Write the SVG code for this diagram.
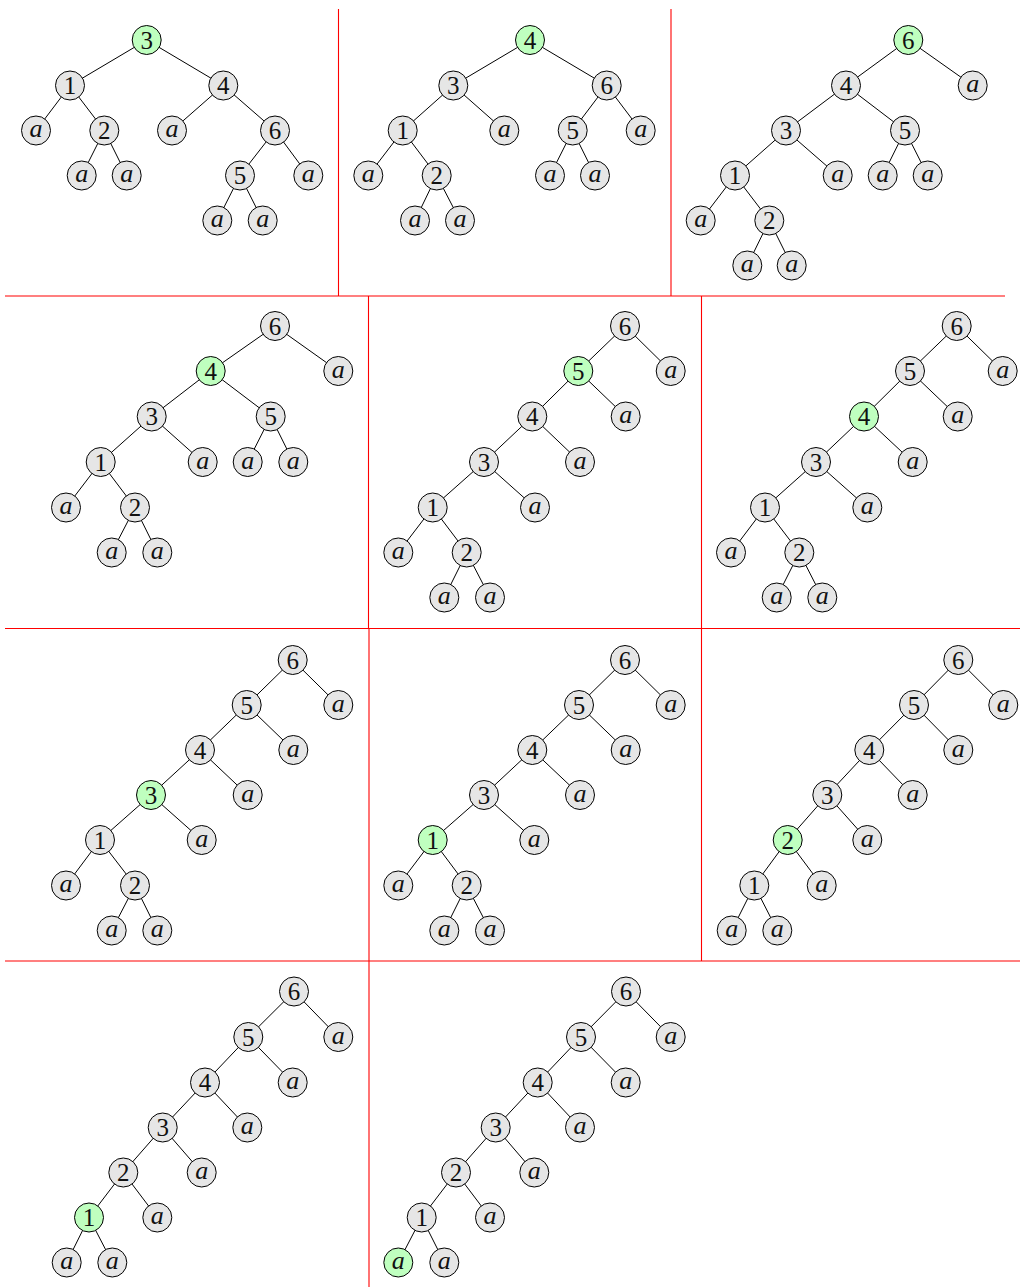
<svg xmlns="http://www.w3.org/2000/svg" width="1020" height="1287" viewBox="0 0 1020 1287">
<style>
.node circle{fill:#e6e6e6;stroke:#000;stroke-width:1}
.node.hl circle{fill:#bfffbf}
.node text{font-family:"Liberation Serif",serif;text-anchor:middle;fill:#111}
.d{font-size:25px}
.i{font-size:26px;font-style:italic}
.edges line{stroke:#000;stroke-width:1}
.div line{stroke:#ff0000;stroke-width:1.1}
</style>
<rect width="1020" height="1287" fill="#fff"/>
<g id="dividers" class="div">
<line x1="338.5" y1="9" x2="338.5" y2="296"/>
<line x1="671" y1="9" x2="671" y2="296"/>
<line x1="5" y1="296" x2="1005" y2="296"/>
<line x1="368.5" y1="296" x2="368.5" y2="628.5"/>
<line x1="701.5" y1="296" x2="701.5" y2="628.5"/>
<line x1="5" y1="628.5" x2="1020" y2="628.5"/>
<line x1="369" y1="628.5" x2="369" y2="961"/>
<line x1="701.5" y1="628.5" x2="701.5" y2="961"/>
<line x1="5" y1="961" x2="1020" y2="961"/>
<line x1="369" y1="961" x2="369" y2="1287"/>
</g>
<g id="connectors" class="edges">
<line x1="146.7" y1="40" x2="70" y2="85.5"/><line x1="146.7" y1="40" x2="223.3" y2="85.5"/><line x1="70" y1="85.5" x2="36" y2="130.5"/><line x1="70" y1="85.5" x2="104.3" y2="130.5"/><line x1="104.3" y1="130.5" x2="81.7" y2="175.5"/><line x1="104.3" y1="130.5" x2="126.7" y2="175.5"/><line x1="223.3" y1="85.5" x2="172" y2="130.5"/><line x1="223.3" y1="85.5" x2="275" y2="130.5"/><line x1="275" y1="130.5" x2="240" y2="175.5"/><line x1="275" y1="130.5" x2="308.3" y2="175.5"/><line x1="240" y1="175.5" x2="217.3" y2="220.5"/><line x1="240" y1="175.5" x2="262.7" y2="220.5"/>
<line x1="530" y1="40" x2="453.3" y2="85.5"/><line x1="530" y1="40" x2="606.7" y2="85.5"/><line x1="453.3" y1="85.5" x2="402.7" y2="130.5"/><line x1="453.3" y1="85.5" x2="504.3" y2="130.5"/><line x1="606.7" y1="85.5" x2="572.7" y2="130.5"/><line x1="606.7" y1="85.5" x2="640.7" y2="130.5"/><line x1="402.7" y1="130.5" x2="368.3" y2="175.5"/><line x1="402.7" y1="130.5" x2="436.7" y2="175.5"/><line x1="572.7" y1="130.5" x2="550" y2="175.5"/><line x1="572.7" y1="130.5" x2="595" y2="175.5"/><line x1="436.7" y1="175.5" x2="415" y2="220.5"/><line x1="436.7" y1="175.5" x2="460" y2="220.5"/>
<line x1="908.3" y1="40" x2="846" y2="85.5"/><line x1="908.3" y1="40" x2="972.7" y2="85.5"/><line x1="846" y1="85.5" x2="786" y2="130.5"/><line x1="846" y1="85.5" x2="905" y2="130.5"/><line x1="786" y1="130.5" x2="735" y2="175.5"/><line x1="786" y1="130.5" x2="837.7" y2="175.5"/><line x1="905" y1="130.5" x2="882.7" y2="175.5"/><line x1="905" y1="130.5" x2="927.7" y2="175.5"/><line x1="735" y1="175.5" x2="700.7" y2="220.5"/><line x1="735" y1="175.5" x2="769.3" y2="220.5"/><line x1="769.3" y1="220.5" x2="747.3" y2="265.5"/><line x1="769.3" y1="220.5" x2="791.7" y2="265.5"/>
<line x1="275" y1="326" x2="210.7" y2="371"/><line x1="275" y1="326" x2="338.3" y2="371"/><line x1="210.7" y1="371" x2="151.7" y2="416.5"/><line x1="210.7" y1="371" x2="270.7" y2="416.5"/><line x1="151.7" y1="416.5" x2="100.7" y2="462"/><line x1="151.7" y1="416.5" x2="202.7" y2="462"/><line x1="270.7" y1="416.5" x2="247.7" y2="462"/><line x1="270.7" y1="416.5" x2="293.3" y2="462"/><line x1="100.7" y1="462" x2="66" y2="507.5"/><line x1="100.7" y1="462" x2="135" y2="507.5"/><line x1="135" y1="507.5" x2="111.7" y2="552.5"/><line x1="135" y1="507.5" x2="157.3" y2="552.5"/>
<line x1="625" y1="326" x2="578.3" y2="371"/><line x1="625" y1="326" x2="670.7" y2="371"/><line x1="578.3" y1="371" x2="532.3" y2="416.5"/><line x1="578.3" y1="371" x2="625.7" y2="416.5"/><line x1="532.3" y1="416.5" x2="484" y2="462"/><line x1="532.3" y1="416.5" x2="580" y2="462"/><line x1="484" y1="462" x2="432.7" y2="507.5"/><line x1="484" y1="462" x2="535" y2="507.5"/><line x1="432.7" y1="507.5" x2="398.3" y2="552.5"/><line x1="432.7" y1="507.5" x2="466.7" y2="552.5"/><line x1="466.7" y1="552.5" x2="444.3" y2="597.5"/><line x1="466.7" y1="552.5" x2="490" y2="597.5"/>
<line x1="956.7" y1="326" x2="910" y2="371"/><line x1="956.7" y1="326" x2="1002.7" y2="371"/><line x1="910" y1="371" x2="864" y2="416.5"/><line x1="910" y1="371" x2="957.7" y2="416.5"/><line x1="864" y1="416.5" x2="816" y2="462"/><line x1="864" y1="416.5" x2="912.7" y2="462"/><line x1="816" y1="462" x2="765" y2="507.5"/><line x1="816" y1="462" x2="867.3" y2="507.5"/><line x1="765" y1="507.5" x2="731" y2="552.5"/><line x1="765" y1="507.5" x2="799.3" y2="552.5"/><line x1="799.3" y1="552.5" x2="776.7" y2="597.5"/><line x1="799.3" y1="552.5" x2="822.3" y2="597.5"/>
<line x1="292.7" y1="660" x2="246.7" y2="705"/><line x1="292.7" y1="660" x2="338.3" y2="705"/><line x1="246.7" y1="705" x2="200" y2="750"/><line x1="246.7" y1="705" x2="293.3" y2="750"/><line x1="200" y1="750" x2="151" y2="795"/><line x1="200" y1="750" x2="247.7" y2="795"/><line x1="151" y1="795" x2="100" y2="840"/><line x1="151" y1="795" x2="201.7" y2="840"/><line x1="100" y1="840" x2="66" y2="885.5"/><line x1="100" y1="840" x2="135" y2="885.5"/><line x1="135" y1="885.5" x2="111.7" y2="930.5"/><line x1="135" y1="885.5" x2="157.3" y2="930.5"/>
<line x1="625" y1="660" x2="579" y2="705"/><line x1="625" y1="660" x2="670.7" y2="705"/><line x1="579" y1="705" x2="532.3" y2="750"/><line x1="579" y1="705" x2="625.7" y2="750"/><line x1="532.3" y1="750" x2="484" y2="795"/><line x1="532.3" y1="750" x2="580" y2="795"/><line x1="484" y1="795" x2="432.7" y2="840"/><line x1="484" y1="795" x2="534.3" y2="840"/><line x1="432.7" y1="840" x2="398.3" y2="885.5"/><line x1="432.7" y1="840" x2="466.7" y2="885.5"/><line x1="466.7" y1="885.5" x2="444.3" y2="930.5"/><line x1="466.7" y1="885.5" x2="490" y2="930.5"/>
<line x1="958.3" y1="660" x2="914" y2="705"/><line x1="958.3" y1="660" x2="1003.3" y2="705"/><line x1="914" y1="705" x2="869.3" y2="750"/><line x1="914" y1="705" x2="958.3" y2="750"/><line x1="869.3" y1="750" x2="827.3" y2="795"/><line x1="869.3" y1="750" x2="912.7" y2="795"/><line x1="827.3" y1="795" x2="787.7" y2="840"/><line x1="827.3" y1="795" x2="867.3" y2="840"/><line x1="787.7" y1="840" x2="754.3" y2="885.5"/><line x1="787.7" y1="840" x2="821.7" y2="885.5"/><line x1="754.3" y1="885.5" x2="731.7" y2="930.5"/><line x1="754.3" y1="885.5" x2="777.3" y2="930.5"/>
<line x1="294" y1="991.5" x2="248.3" y2="1037"/><line x1="294" y1="991.5" x2="338.3" y2="1037"/><line x1="248.3" y1="1037" x2="205" y2="1082.5"/><line x1="248.3" y1="1037" x2="292.7" y2="1082.5"/><line x1="205" y1="1082.5" x2="162.7" y2="1127.5"/><line x1="205" y1="1082.5" x2="247.3" y2="1127.5"/><line x1="162.7" y1="1127.5" x2="123.3" y2="1172.5"/><line x1="162.7" y1="1127.5" x2="201.7" y2="1172.5"/><line x1="123.3" y1="1172.5" x2="89" y2="1217.5"/><line x1="123.3" y1="1172.5" x2="157.3" y2="1217.5"/><line x1="89" y1="1217.5" x2="66.7" y2="1262.5"/><line x1="89" y1="1217.5" x2="112.3" y2="1262.5"/>
<line x1="626" y1="991.5" x2="581" y2="1037"/><line x1="626" y1="991.5" x2="670.7" y2="1037"/><line x1="581" y1="1037" x2="537.7" y2="1082.5"/><line x1="581" y1="1037" x2="625.7" y2="1082.5"/><line x1="537.7" y1="1082.5" x2="495.7" y2="1127.5"/><line x1="537.7" y1="1082.5" x2="580" y2="1127.5"/><line x1="495.7" y1="1127.5" x2="456" y2="1172.5"/><line x1="495.7" y1="1127.5" x2="534.3" y2="1172.5"/><line x1="456" y1="1172.5" x2="421.7" y2="1217.5"/><line x1="456" y1="1172.5" x2="490" y2="1217.5"/><line x1="421.7" y1="1217.5" x2="398.3" y2="1262.5"/><line x1="421.7" y1="1217.5" x2="444.3" y2="1262.5"/>
</g>
<g id="panel1">
<g id="p1-3" class="node hl"><circle cx="146.7" cy="40" r="14.5"/><text class="d" x="146.7" y="48.5">3</text></g>
<g id="p1-1" class="node"><circle cx="70" cy="85.5" r="14.5"/><text class="d" x="70" y="94">1</text></g>
<g id="p1-4" class="node"><circle cx="223.3" cy="85.5" r="14.5"/><text class="d" x="223.3" y="94">4</text></g>
<g id="p1-a1" class="node"><circle cx="36" cy="130.5" r="14.5"/><text class="i" x="36" y="137">a</text></g>
<g id="p1-2" class="node"><circle cx="104.3" cy="130.5" r="14.5"/><text class="d" x="104.3" y="139">2</text></g>
<g id="p1-a2" class="node"><circle cx="172" cy="130.5" r="14.5"/><text class="i" x="172" y="137">a</text></g>
<g id="p1-6" class="node"><circle cx="275" cy="130.5" r="14.5"/><text class="d" x="275" y="139">6</text></g>
<g id="p1-a3" class="node"><circle cx="81.7" cy="175.5" r="14.5"/><text class="i" x="81.7" y="182">a</text></g>
<g id="p1-a4" class="node"><circle cx="126.7" cy="175.5" r="14.5"/><text class="i" x="126.7" y="182">a</text></g>
<g id="p1-5" class="node"><circle cx="240" cy="175.5" r="14.5"/><text class="d" x="240" y="184">5</text></g>
<g id="p1-a5" class="node"><circle cx="308.3" cy="175.5" r="14.5"/><text class="i" x="308.3" y="182">a</text></g>
<g id="p1-a6" class="node"><circle cx="217.3" cy="220.5" r="14.5"/><text class="i" x="217.3" y="227">a</text></g>
<g id="p1-a7" class="node"><circle cx="262.7" cy="220.5" r="14.5"/><text class="i" x="262.7" y="227">a</text></g>
</g>
<g id="panel2">
<g id="p2-4" class="node hl"><circle cx="530" cy="40" r="14.5"/><text class="d" x="530" y="48.5">4</text></g>
<g id="p2-3" class="node"><circle cx="453.3" cy="85.5" r="14.5"/><text class="d" x="453.3" y="94">3</text></g>
<g id="p2-6" class="node"><circle cx="606.7" cy="85.5" r="14.5"/><text class="d" x="606.7" y="94">6</text></g>
<g id="p2-1" class="node"><circle cx="402.7" cy="130.5" r="14.5"/><text class="d" x="402.7" y="139">1</text></g>
<g id="p2-a1" class="node"><circle cx="504.3" cy="130.5" r="14.5"/><text class="i" x="504.3" y="137">a</text></g>
<g id="p2-5" class="node"><circle cx="572.7" cy="130.5" r="14.5"/><text class="d" x="572.7" y="139">5</text></g>
<g id="p2-a2" class="node"><circle cx="640.7" cy="130.5" r="14.5"/><text class="i" x="640.7" y="137">a</text></g>
<g id="p2-a3" class="node"><circle cx="368.3" cy="175.5" r="14.5"/><text class="i" x="368.3" y="182">a</text></g>
<g id="p2-2" class="node"><circle cx="436.7" cy="175.5" r="14.5"/><text class="d" x="436.7" y="184">2</text></g>
<g id="p2-a4" class="node"><circle cx="550" cy="175.5" r="14.5"/><text class="i" x="550" y="182">a</text></g>
<g id="p2-a5" class="node"><circle cx="595" cy="175.5" r="14.5"/><text class="i" x="595" y="182">a</text></g>
<g id="p2-a6" class="node"><circle cx="415" cy="220.5" r="14.5"/><text class="i" x="415" y="227">a</text></g>
<g id="p2-a7" class="node"><circle cx="460" cy="220.5" r="14.5"/><text class="i" x="460" y="227">a</text></g>
</g>
<g id="panel3">
<g id="p3-6" class="node hl"><circle cx="908.3" cy="40" r="14.5"/><text class="d" x="908.3" y="48.5">6</text></g>
<g id="p3-4" class="node"><circle cx="846" cy="85.5" r="14.5"/><text class="d" x="846" y="94">4</text></g>
<g id="p3-a1" class="node"><circle cx="972.7" cy="85.5" r="14.5"/><text class="i" x="972.7" y="92">a</text></g>
<g id="p3-3" class="node"><circle cx="786" cy="130.5" r="14.5"/><text class="d" x="786" y="139">3</text></g>
<g id="p3-5" class="node"><circle cx="905" cy="130.5" r="14.5"/><text class="d" x="905" y="139">5</text></g>
<g id="p3-1" class="node"><circle cx="735" cy="175.5" r="14.5"/><text class="d" x="735" y="184">1</text></g>
<g id="p3-a2" class="node"><circle cx="837.7" cy="175.5" r="14.5"/><text class="i" x="837.7" y="182">a</text></g>
<g id="p3-a3" class="node"><circle cx="882.7" cy="175.5" r="14.5"/><text class="i" x="882.7" y="182">a</text></g>
<g id="p3-a4" class="node"><circle cx="927.7" cy="175.5" r="14.5"/><text class="i" x="927.7" y="182">a</text></g>
<g id="p3-a5" class="node"><circle cx="700.7" cy="220.5" r="14.5"/><text class="i" x="700.7" y="227">a</text></g>
<g id="p3-2" class="node"><circle cx="769.3" cy="220.5" r="14.5"/><text class="d" x="769.3" y="229">2</text></g>
<g id="p3-a6" class="node"><circle cx="747.3" cy="265.5" r="14.5"/><text class="i" x="747.3" y="272">a</text></g>
<g id="p3-a7" class="node"><circle cx="791.7" cy="265.5" r="14.5"/><text class="i" x="791.7" y="272">a</text></g>
</g>
<g id="panel4">
<g id="p4-6" class="node"><circle cx="275" cy="326" r="14.5"/><text class="d" x="275" y="334.5">6</text></g>
<g id="p4-4" class="node hl"><circle cx="210.7" cy="371" r="14.5"/><text class="d" x="210.7" y="379.5">4</text></g>
<g id="p4-a1" class="node"><circle cx="338.3" cy="371" r="14.5"/><text class="i" x="338.3" y="377.5">a</text></g>
<g id="p4-3" class="node"><circle cx="151.7" cy="416.5" r="14.5"/><text class="d" x="151.7" y="425">3</text></g>
<g id="p4-5" class="node"><circle cx="270.7" cy="416.5" r="14.5"/><text class="d" x="270.7" y="425">5</text></g>
<g id="p4-1" class="node"><circle cx="100.7" cy="462" r="14.5"/><text class="d" x="100.7" y="470.5">1</text></g>
<g id="p4-a2" class="node"><circle cx="202.7" cy="462" r="14.5"/><text class="i" x="202.7" y="468.5">a</text></g>
<g id="p4-a3" class="node"><circle cx="247.7" cy="462" r="14.5"/><text class="i" x="247.7" y="468.5">a</text></g>
<g id="p4-a4" class="node"><circle cx="293.3" cy="462" r="14.5"/><text class="i" x="293.3" y="468.5">a</text></g>
<g id="p4-a5" class="node"><circle cx="66" cy="507.5" r="14.5"/><text class="i" x="66" y="514">a</text></g>
<g id="p4-2" class="node"><circle cx="135" cy="507.5" r="14.5"/><text class="d" x="135" y="516">2</text></g>
<g id="p4-a6" class="node"><circle cx="111.7" cy="552.5" r="14.5"/><text class="i" x="111.7" y="559">a</text></g>
<g id="p4-a7" class="node"><circle cx="157.3" cy="552.5" r="14.5"/><text class="i" x="157.3" y="559">a</text></g>
</g>
<g id="panel5">
<g id="p5-6" class="node"><circle cx="625" cy="326" r="14.5"/><text class="d" x="625" y="334.5">6</text></g>
<g id="p5-5" class="node hl"><circle cx="578.3" cy="371" r="14.5"/><text class="d" x="578.3" y="379.5">5</text></g>
<g id="p5-a1" class="node"><circle cx="670.7" cy="371" r="14.5"/><text class="i" x="670.7" y="377.5">a</text></g>
<g id="p5-4" class="node"><circle cx="532.3" cy="416.5" r="14.5"/><text class="d" x="532.3" y="425">4</text></g>
<g id="p5-a2" class="node"><circle cx="625.7" cy="416.5" r="14.5"/><text class="i" x="625.7" y="423">a</text></g>
<g id="p5-3" class="node"><circle cx="484" cy="462" r="14.5"/><text class="d" x="484" y="470.5">3</text></g>
<g id="p5-a3" class="node"><circle cx="580" cy="462" r="14.5"/><text class="i" x="580" y="468.5">a</text></g>
<g id="p5-1" class="node"><circle cx="432.7" cy="507.5" r="14.5"/><text class="d" x="432.7" y="516">1</text></g>
<g id="p5-a4" class="node"><circle cx="535" cy="507.5" r="14.5"/><text class="i" x="535" y="514">a</text></g>
<g id="p5-a5" class="node"><circle cx="398.3" cy="552.5" r="14.5"/><text class="i" x="398.3" y="559">a</text></g>
<g id="p5-2" class="node"><circle cx="466.7" cy="552.5" r="14.5"/><text class="d" x="466.7" y="561">2</text></g>
<g id="p5-a6" class="node"><circle cx="444.3" cy="597.5" r="14.5"/><text class="i" x="444.3" y="604">a</text></g>
<g id="p5-a7" class="node"><circle cx="490" cy="597.5" r="14.5"/><text class="i" x="490" y="604">a</text></g>
</g>
<g id="panel6">
<g id="p6-6" class="node"><circle cx="956.7" cy="326" r="14.5"/><text class="d" x="956.7" y="334.5">6</text></g>
<g id="p6-5" class="node"><circle cx="910" cy="371" r="14.5"/><text class="d" x="910" y="379.5">5</text></g>
<g id="p6-a1" class="node"><circle cx="1002.7" cy="371" r="14.5"/><text class="i" x="1002.7" y="377.5">a</text></g>
<g id="p6-4" class="node hl"><circle cx="864" cy="416.5" r="14.5"/><text class="d" x="864" y="425">4</text></g>
<g id="p6-a2" class="node"><circle cx="957.7" cy="416.5" r="14.5"/><text class="i" x="957.7" y="423">a</text></g>
<g id="p6-3" class="node"><circle cx="816" cy="462" r="14.5"/><text class="d" x="816" y="470.5">3</text></g>
<g id="p6-a3" class="node"><circle cx="912.7" cy="462" r="14.5"/><text class="i" x="912.7" y="468.5">a</text></g>
<g id="p6-1" class="node"><circle cx="765" cy="507.5" r="14.5"/><text class="d" x="765" y="516">1</text></g>
<g id="p6-a4" class="node"><circle cx="867.3" cy="507.5" r="14.5"/><text class="i" x="867.3" y="514">a</text></g>
<g id="p6-a5" class="node"><circle cx="731" cy="552.5" r="14.5"/><text class="i" x="731" y="559">a</text></g>
<g id="p6-2" class="node"><circle cx="799.3" cy="552.5" r="14.5"/><text class="d" x="799.3" y="561">2</text></g>
<g id="p6-a6" class="node"><circle cx="776.7" cy="597.5" r="14.5"/><text class="i" x="776.7" y="604">a</text></g>
<g id="p6-a7" class="node"><circle cx="822.3" cy="597.5" r="14.5"/><text class="i" x="822.3" y="604">a</text></g>
</g>
<g id="panel7">
<g id="p7-6" class="node"><circle cx="292.7" cy="660" r="14.5"/><text class="d" x="292.7" y="668.5">6</text></g>
<g id="p7-5" class="node"><circle cx="246.7" cy="705" r="14.5"/><text class="d" x="246.7" y="713.5">5</text></g>
<g id="p7-a1" class="node"><circle cx="338.3" cy="705" r="14.5"/><text class="i" x="338.3" y="711.5">a</text></g>
<g id="p7-4" class="node"><circle cx="200" cy="750" r="14.5"/><text class="d" x="200" y="758.5">4</text></g>
<g id="p7-a2" class="node"><circle cx="293.3" cy="750" r="14.5"/><text class="i" x="293.3" y="756.5">a</text></g>
<g id="p7-3" class="node hl"><circle cx="151" cy="795" r="14.5"/><text class="d" x="151" y="803.5">3</text></g>
<g id="p7-a3" class="node"><circle cx="247.7" cy="795" r="14.5"/><text class="i" x="247.7" y="801.5">a</text></g>
<g id="p7-1" class="node"><circle cx="100" cy="840" r="14.5"/><text class="d" x="100" y="848.5">1</text></g>
<g id="p7-a4" class="node"><circle cx="201.7" cy="840" r="14.5"/><text class="i" x="201.7" y="846.5">a</text></g>
<g id="p7-a5" class="node"><circle cx="66" cy="885.5" r="14.5"/><text class="i" x="66" y="892">a</text></g>
<g id="p7-2" class="node"><circle cx="135" cy="885.5" r="14.5"/><text class="d" x="135" y="894">2</text></g>
<g id="p7-a6" class="node"><circle cx="111.7" cy="930.5" r="14.5"/><text class="i" x="111.7" y="937">a</text></g>
<g id="p7-a7" class="node"><circle cx="157.3" cy="930.5" r="14.5"/><text class="i" x="157.3" y="937">a</text></g>
</g>
<g id="panel8">
<g id="p8-6" class="node"><circle cx="625" cy="660" r="14.5"/><text class="d" x="625" y="668.5">6</text></g>
<g id="p8-5" class="node"><circle cx="579" cy="705" r="14.5"/><text class="d" x="579" y="713.5">5</text></g>
<g id="p8-a1" class="node"><circle cx="670.7" cy="705" r="14.5"/><text class="i" x="670.7" y="711.5">a</text></g>
<g id="p8-4" class="node"><circle cx="532.3" cy="750" r="14.5"/><text class="d" x="532.3" y="758.5">4</text></g>
<g id="p8-a2" class="node"><circle cx="625.7" cy="750" r="14.5"/><text class="i" x="625.7" y="756.5">a</text></g>
<g id="p8-3" class="node"><circle cx="484" cy="795" r="14.5"/><text class="d" x="484" y="803.5">3</text></g>
<g id="p8-a3" class="node"><circle cx="580" cy="795" r="14.5"/><text class="i" x="580" y="801.5">a</text></g>
<g id="p8-1" class="node hl"><circle cx="432.7" cy="840" r="14.5"/><text class="d" x="432.7" y="848.5">1</text></g>
<g id="p8-a4" class="node"><circle cx="534.3" cy="840" r="14.5"/><text class="i" x="534.3" y="846.5">a</text></g>
<g id="p8-a5" class="node"><circle cx="398.3" cy="885.5" r="14.5"/><text class="i" x="398.3" y="892">a</text></g>
<g id="p8-2" class="node"><circle cx="466.7" cy="885.5" r="14.5"/><text class="d" x="466.7" y="894">2</text></g>
<g id="p8-a6" class="node"><circle cx="444.3" cy="930.5" r="14.5"/><text class="i" x="444.3" y="937">a</text></g>
<g id="p8-a7" class="node"><circle cx="490" cy="930.5" r="14.5"/><text class="i" x="490" y="937">a</text></g>
</g>
<g id="panel9">
<g id="p9-6" class="node"><circle cx="958.3" cy="660" r="14.5"/><text class="d" x="958.3" y="668.5">6</text></g>
<g id="p9-5" class="node"><circle cx="914" cy="705" r="14.5"/><text class="d" x="914" y="713.5">5</text></g>
<g id="p9-a1" class="node"><circle cx="1003.3" cy="705" r="14.5"/><text class="i" x="1003.3" y="711.5">a</text></g>
<g id="p9-4" class="node"><circle cx="869.3" cy="750" r="14.5"/><text class="d" x="869.3" y="758.5">4</text></g>
<g id="p9-a2" class="node"><circle cx="958.3" cy="750" r="14.5"/><text class="i" x="958.3" y="756.5">a</text></g>
<g id="p9-3" class="node"><circle cx="827.3" cy="795" r="14.5"/><text class="d" x="827.3" y="803.5">3</text></g>
<g id="p9-a3" class="node"><circle cx="912.7" cy="795" r="14.5"/><text class="i" x="912.7" y="801.5">a</text></g>
<g id="p9-2" class="node hl"><circle cx="787.7" cy="840" r="14.5"/><text class="d" x="787.7" y="848.5">2</text></g>
<g id="p9-a4" class="node"><circle cx="867.3" cy="840" r="14.5"/><text class="i" x="867.3" y="846.5">a</text></g>
<g id="p9-1" class="node"><circle cx="754.3" cy="885.5" r="14.5"/><text class="d" x="754.3" y="894">1</text></g>
<g id="p9-a5" class="node"><circle cx="821.7" cy="885.5" r="14.5"/><text class="i" x="821.7" y="892">a</text></g>
<g id="p9-a6" class="node"><circle cx="731.7" cy="930.5" r="14.5"/><text class="i" x="731.7" y="937">a</text></g>
<g id="p9-a7" class="node"><circle cx="777.3" cy="930.5" r="14.5"/><text class="i" x="777.3" y="937">a</text></g>
</g>
<g id="panel10">
<g id="p10-6" class="node"><circle cx="294" cy="991.5" r="14.5"/><text class="d" x="294" y="1000">6</text></g>
<g id="p10-5" class="node"><circle cx="248.3" cy="1037" r="14.5"/><text class="d" x="248.3" y="1045.5">5</text></g>
<g id="p10-a1" class="node"><circle cx="338.3" cy="1037" r="14.5"/><text class="i" x="338.3" y="1043.5">a</text></g>
<g id="p10-4" class="node"><circle cx="205" cy="1082.5" r="14.5"/><text class="d" x="205" y="1091">4</text></g>
<g id="p10-a2" class="node"><circle cx="292.7" cy="1082.5" r="14.5"/><text class="i" x="292.7" y="1089">a</text></g>
<g id="p10-3" class="node"><circle cx="162.7" cy="1127.5" r="14.5"/><text class="d" x="162.7" y="1136">3</text></g>
<g id="p10-a3" class="node"><circle cx="247.3" cy="1127.5" r="14.5"/><text class="i" x="247.3" y="1134">a</text></g>
<g id="p10-2" class="node"><circle cx="123.3" cy="1172.5" r="14.5"/><text class="d" x="123.3" y="1181">2</text></g>
<g id="p10-a4" class="node"><circle cx="201.7" cy="1172.5" r="14.5"/><text class="i" x="201.7" y="1179">a</text></g>
<g id="p10-1" class="node hl"><circle cx="89" cy="1217.5" r="14.5"/><text class="d" x="89" y="1226">1</text></g>
<g id="p10-a5" class="node"><circle cx="157.3" cy="1217.5" r="14.5"/><text class="i" x="157.3" y="1224">a</text></g>
<g id="p10-a6" class="node"><circle cx="66.7" cy="1262.5" r="14.5"/><text class="i" x="66.7" y="1269">a</text></g>
<g id="p10-a7" class="node"><circle cx="112.3" cy="1262.5" r="14.5"/><text class="i" x="112.3" y="1269">a</text></g>
</g>
<g id="panel11">
<g id="p11-6" class="node"><circle cx="626" cy="991.5" r="14.5"/><text class="d" x="626" y="1000">6</text></g>
<g id="p11-5" class="node"><circle cx="581" cy="1037" r="14.5"/><text class="d" x="581" y="1045.5">5</text></g>
<g id="p11-a1" class="node"><circle cx="670.7" cy="1037" r="14.5"/><text class="i" x="670.7" y="1043.5">a</text></g>
<g id="p11-4" class="node"><circle cx="537.7" cy="1082.5" r="14.5"/><text class="d" x="537.7" y="1091">4</text></g>
<g id="p11-a2" class="node"><circle cx="625.7" cy="1082.5" r="14.5"/><text class="i" x="625.7" y="1089">a</text></g>
<g id="p11-3" class="node"><circle cx="495.7" cy="1127.5" r="14.5"/><text class="d" x="495.7" y="1136">3</text></g>
<g id="p11-a3" class="node"><circle cx="580" cy="1127.5" r="14.5"/><text class="i" x="580" y="1134">a</text></g>
<g id="p11-2" class="node"><circle cx="456" cy="1172.5" r="14.5"/><text class="d" x="456" y="1181">2</text></g>
<g id="p11-a4" class="node"><circle cx="534.3" cy="1172.5" r="14.5"/><text class="i" x="534.3" y="1179">a</text></g>
<g id="p11-1" class="node"><circle cx="421.7" cy="1217.5" r="14.5"/><text class="d" x="421.7" y="1226">1</text></g>
<g id="p11-a5" class="node"><circle cx="490" cy="1217.5" r="14.5"/><text class="i" x="490" y="1224">a</text></g>
<g id="p11-a6" class="node hl"><circle cx="398.3" cy="1262.5" r="14.5"/><text class="i" x="398.3" y="1269">a</text></g>
<g id="p11-a7" class="node"><circle cx="444.3" cy="1262.5" r="14.5"/><text class="i" x="444.3" y="1269">a</text></g>
</g>
</svg>
